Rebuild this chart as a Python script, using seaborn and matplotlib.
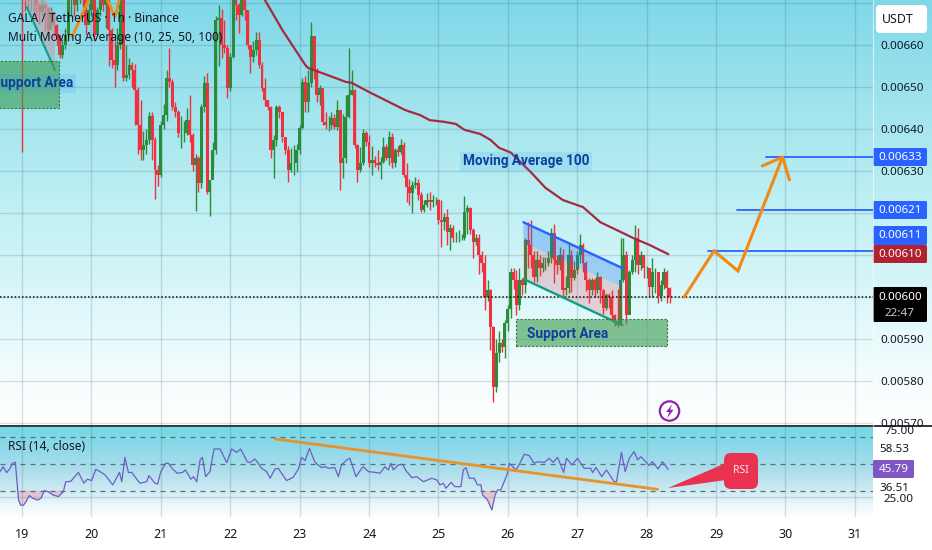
import numpy as np
import matplotlib
matplotlib.use("Agg")
import matplotlib.pyplot as plt
from matplotlib.patches import Rectangle, FancyBboxPatch, Polygon, Circle
import seaborn as sns

# ---------------- data: hourly candles, prices in 1e-5 USDT, hour 0 = day 19 00:00 ----------------
closes = [
 671.9,671.4,671.2,671.2,670.7,669.5,667.8,669.5,668.8,663.6,667.8,664.7,662.4,657.6,660,662.4,670.7,671.9,669.5,671.9,673.1,671.9,664.7,668.3,
 671.9,662.4,668.3,670.7,669.5,671.9,663.6,656.4,655.2,660,670.7,652.1,652.8,655.2,654,649.3,640.9,635,636.2,637.4,643,637.4,630.2,629,
 640.9,643.3,652.1,651.2,645.2,644,639,639,639,642.1,638.6,631.4,633.1,627.1,645.2,650.9,625,627.9,635,666,666.4,660,659.3,649.7,
 657.1,671.9,669.5,667.1,672.6,668.3,660,657.1,658.8,661.2,655.2,649.7,646.9,645.2,635,637.4,645.2,644,638.1,635,630.2,631.9,631.9,635,
 640.2,651.2,646.4,650.9,662.1,654,648.1,649.7,641.7,640.9,640.9,642.6,640.5,644.5,631.9,633.1,642.8,648.1,649.3,636.2,630.2,631.9,639,636.9,
 631.9,632.6,631.9,631.4,632.1,635.7,633.1,638.1,631.9,635,634.5,636.2,629,626.2,624.7,626.7,627.1,624.3,620.7,621.9,623.1,622.6,623.1,623.1,
 618.3,617.8,619,615.5,616.4,614,614,614,614,620.2,621.2,616,613.1,614,610,608.1,600,601.7,592.8,578.6,586.7,589,588.1,593.8,
 597.1,605.9,604,598.1,604,602.8,613.6,612.4,610,604.7,608.8,606.9,608.1,608.1,609.3,615.2,608.8,607.6,610,601.7,602.1,610,604.5,606.4,
 610,612.4,608.1,604,601.7,604,601.7,604.7,601.7,597.4,600.5,600,595.7,593.8,593.3,604,610,595.7,605.9,608.8,614,607.6,610,606.9,
 606.9,602.4,605.9,605.9,600.2,602.8,605.9,602.1,600]
highs = [
 676,673,673,673,672.5,671,670,671.5,670,669,669,667,665,662,661.5,664,672,673,671,673,674,673,671,670,
 674,671,669,672,671,673,671,664,661,664,672,671,660,657,656,655.5,650,647,639.5,640,644,644,638,631.5,
 642,646,654,659.2,652,646.5,644.5,643,642,645,648,639,634,633.5,646,652.5,653.3,627.9,637,667,669.5,668.5,666,660,
 658,674,672,670,673,673,668,660,661,663,663,656,652.1,647,645.5,638.5,645.7,645.7,644,638,636,635.4,636.2,636.5,
 641,652.1,652.6,654,665.5,662,654.5,650.5,647.4,644,643,644,643.5,647,643,643.5,648,659.3,654,649.5,636.5,635.7,640,639.5,
 638.6,636,633.5,635,633.3,638,636.5,639.5,639,635.5,636,637.5,637,632,628,627.5,628.5,628,625,623,624.8,625,624.3,623.8,
 623.3,623,620,621,617.5,617.2,615.5,616,615,624,622,621.5,616.5,615,615,611,610,604,602,593,590,592,590,594.5,
 598,607,607,606.5,606.9,604.5,614,617.8,618.3,611,611,610,609.5,609.5,611,616.5,617.5,610,612,611.5,605,613,611.3,608.5,
 611,615,612.8,608.5,604.5,604.5,604.5,606,605,602,601,601,601.7,596,602,614,614,611,606.5,610,617.1,616.4,611,610,
 607.5,607,609.3,607,606,604,607,606.5,602.5]
lows = [
 634.5,668,669,668,667,666,665,667,663,661.5,664,662,660,657,657,659,661,667,667,668,670,669,662.5,665,
 667,661,666,667,668,664,655,654.5,650,654,659,651.5,651.5,652,650,641,634,632.5,632.6,634,636.5,632.5,623.3,626.5,
 628.5,640,642,650,644.5,642.8,638,635.5,637,638.5,637,630,620.5,625,626,644,624.5,619.3,631,634,655,657,658,647.4,
 649,657,666,662.8,667,666,659,653.3,656,657.6,654.5,649,645.5,644.5,633,628.3,636,642.6,637,634,627.4,629.7,629,629.7,
 634,640,644,644,650,652,646.4,645.7,640.9,640,639.5,640,640,639.8,625.5,628.3,632,642.6,648,635.5,627.4,629.7,631.5,636,
 631,629,631,630.2,628,632,632.5,631.5,630.7,631,633.5,634,628.5,622.6,622,620,626,623,620.2,620.2,621.5,620.7,621.5,622,
 617.5,612,616,612.4,611.2,613,613,613,613.5,613.5,615,615,609.3,612.5,605.5,606,597,599,587.4,575,577.4,584.5,587,585.5,
 592,595,602,595.7,597,600.5,601,607,607,603.5,603.5,605,606,606.5,607.5,608,603.3,605.5,606.5,600,600.5,601,601.2,604,
 605.5,608,606,601.5,598.5,600.5,600,601,598.5,596,597,597.5,594.5,593,592.9,593.5,603.6,593.5,596,605.5,606,605.5,606.5,604.5,
 604.5,600,600,601,598.6,599,602,598.5,598.5]
first_open = 674.0

ma_hours = [84,90,98,99,101,106.6,112,114,120,129,132.5,137.7,141,146,150,153,158.5,162,165,169,176,181,187,194,200,207,211.5,217,223.5]
ma_values = [670.7,663.6,655.2,654.5,654,652.6,651.2,651,648.8,645.7,644.5,643.3,642.1,641.7,641.2,639.8,638.8,637.4,635.5,634.4,629.7,626,623.1,621.4,617.8,615.5,614,612.4,610.2]

rsi_hours = [-7.6,-6.5,-5.3,-4.1,-3.3,-2.3,-1.8,-1.2,-0.5,0.5,1.4,2.5,3.7,5.4,6.6,7.7,9.1,10.8,12.6,14.3,15.1,16.9,19.5,21.4,22.6,
 24.1,25.5,27,28.7,31.4,33.7,34.5,35.6,36.8,37.9,40.8,43.1,43.9,46,46.9,48,49.7,50.6,52.1,53.7,55.6,56.5,58.4,59.3,60.4,61.6,62.4,63.5,65,66.4,68.5,70.8,
 72.5,74.2,75.6,77.9,78.8,80.6,82.9,84.6,85.8,87.5,88.6,91.5,93.8,95.6,96.7,97.9,99.4,101.3,103.6,104.8,105.9,108.2,109.4,110.5,112.3,113.4,115.5,117.5,118,119.8,
 122.1,123.8,125.5,126.7,127.5,128.4,130.1,131.6,133,133.6,134.8,136.5,138.8,141.7,143.4,144.6,145.7,146.6,148.4,149.7,151.8,152.6,153.5,
 154.7,156.4,157.5,158.7,159.3,161,162.5,163.6,164.5,165.6,167.9,168.5,170.8,171.9,173.7,175.4,177.1,178.3,180.6,182.3,183.7,185.2,187.3,188.3,190.2,192.1,194.4,
 196.7,197.3,198.5,200.5,202.1,204.8,205.6,207.3,208.6,210,211.7,212.9,214,215.7,216.9,218,220,221.5,223.5]
rsi_values = [44.1,47.8,43.4,46.6,50.3,51,38,23.1,19.4,19.2,21.9,26.4,24.4,23.1,24.4,30.1,29.1,26.8,25.6,29.3,36.5,37,43.6,35.5,38.5,
 37.5,45.9,44.1,41.7,34.3,43.6,36.7,54.7,43.4,43.6,35.5,36.7,41.2,35.5,35,44.1,50.3,50.3,46.1,42.9,43.6,45.4,38.5,40.4,36.7,52.8,54.7,40.4,44.1,60.9,60.9,50.8,
 60.9,58.4,60.9,51.5,50.8,53.5,46.6,44.1,39.2,46.1,46.6,37.5,40,46.1,54.7,52.3,61.4,51,47.1,47.8,46.6,47.1,40.4,49.1,52.8,54,40.4,46.6,47.8,44.1,
 43.6,42.9,47.8,45.4,50.3,45.4,49.1,49.6,44.1,42.9,39.7,40.4,36.7,39.2,38,34.3,35.5,31.8,36.2,33,33,45.4,47.1,
 39.2,39.2,34.3,34.3,26.8,23.1,15.7,26.8,30.6,30.6,42.9,50.3,45.4,49.1,57,56,50.3,51.5,51,54,51,54.7,43.6,54,49.1,54,46.6,
 46.6,43.4,47.3,40.4,45.4,36.7,36.7,58.4,44.1,54,58.9,52.8,55.2,51.5,48.6,51.5,46.1,51.5,45.7]

day_labels = ["19","20","21","22","23","24","25","26","27","28","29","30","31"]
price_ticks = [570,580,590,600,610,620,630,640,650,660,670]
covered_ticks = [600,610,620,670]
rsi_levels = [70,50,30]
targets = [611,620.8,633.3]
target_start_hours = [237.2,247.2,257.3]
path_hours = [229,239.3,247.6,263]
path_prices = [600,611,606.2,633.3]

# ---------------- style ----------------
sns.set_theme(style="white")
plt.rcParams["font.family"] = ["Noto Sans", "DejaVu Sans"]
FS = 8.4
W, H = 932, 550
INK = "#131722"
UP, DOWN = "#2a8c3a", "#f0303f"
ORANGE, BLUE, TEAL, MACOL = "#f08a14", "#2962ff", "#0e9f83", "#a52a3f"
NAVY = "#0d3f9c"

fig = plt.figure(figsize=(W / 100, H / 100), dpi=100, facecolor="white")

def frame(x0, y0, x1, y1):
    return [x0 / W, 1 - y1 / H, (x1 - x0) / W, (y1 - y0) / H]

# background gradient
ax_bg = fig.add_axes([0, 0, 1, 1], zorder=0)
ax_bg.axis("off")
stops = [(0, "#7ed8e8"), (100, "#9fe3ed"), (200, "#bdeff3"), (300, "#dcf7fa"), (380, "#f6fdfd"), (426, "#ffffff"),
         (427, "#72d8e6"), (450, "#92d9e9"), (470, "#addeec"), (490, "#cfeaf3"), (505, "#ecf7fa"), (517, "#ffffff"), (550, "#ffffff")]
rows = np.arange(H)
pos = [s[0] for s in stops]
rgb = np.array([matplotlib.colors.to_rgb(s[1]) for s in stops])
grad = np.stack([np.interp(rows, pos, rgb[:, i]) for i in range(3)], axis=1)[:, None, :]
ax_bg.imshow(grad, aspect="auto", extent=(0, 1, 0, 1))

PX_H = 2.8917
x_lim = (-22 / PX_H, 851 / PX_H)
hours = np.arange(len(closes))
c = np.array(closes) * 1e-5
h = np.array(highs) * 1e-5
l = np.array(lows) * 1e-5
o = np.r_[first_open * 1e-5, c[:-1]]
colors = [UP if cc >= oo else DOWN for oo, cc in zip(o, c)]
day_hours = [24 * i for i in range(len(day_labels))]
GRID = dict(color="#1f4a58", alpha=0.17, lw=1)

# ---------------- main pane ----------------
ax = fig.add_axes(frame(0, 0, 873, 426), zorder=1)
ax.patch.set_alpha(0)
ax.set_xlim(*x_lim)
ax.set_ylim(569.3e-5, 670.7e-5)
for s in ax.spines.values():
    s.set_visible(False)
ax.set_xticks(day_hours)
ax.set_xticklabels([])
ax.set_yticks([p * 1e-5 for p in price_ticks])
ax.set_yticklabels([f"{p * 1e-5:.5f}" if p not in covered_ticks else "" for p in price_ticks], fontsize=FS, color=INK)
ax.yaxis.tick_right()
ax.tick_params(axis="both", length=0)
ax.tick_params(axis="y", pad=5)
ax.grid(True, **GRID)
ax.set_axisbelow(True)

ax.vlines(hours, l, h, colors=colors, lw=1, zorder=2)
ax.bar(hours, np.abs(c - o), bottom=np.minimum(o, c), width=1.02, color=colors, linewidth=0, zorder=3)
sns.lineplot(x=ma_hours, y=np.array(ma_values) * 1e-5, ax=ax, color=MACOL, lw=1.6, zorder=4, legend=False)
ax.set_xlabel(""); ax.set_ylabel("")
ax.set_xlim(*x_lim); ax.set_ylim(569.3e-5, 670.7e-5)

ax.axhline(600e-5, color="#101010", lw=1.1, ls=(0, (1, 1.4)), zorder=5)

# earlier pattern at top-left
ax.add_patch(Polygon([(1.0, 671e-5), (1.7, 669e-5), (11.4, 654e-5), (11.4, 667e-5), (8, 671e-5)],
                     closed=True, fc="#b9a9b5", ec="none", alpha=0.65, zorder=4))
ax.plot([1.7, 11.4], [669e-5, 654e-5], color=TEAL, lw=1.5, zorder=5)
ax.plot([17.3, 23.5], [661.9e-5, 671.5e-5], color=ORANGE, lw=2, zorder=5)
ax.plot([29, 32.2, 33.9], [671.5e-5, 666.7e-5, 671.5e-5], color=ORANGE, lw=2, zorder=5)

# flag channel
ax.add_patch(Polygon([(173.4, 617.8e-5), (207.6, 606.9e-5), (207.6, 602.4e-5), (173.4, 612.9e-5)],
                     closed=True, fc=(0.13, 0.45, 0.95, 0.30), ec="none", zorder=3.5))
ax.add_patch(Polygon([(173.4, 612.9e-5), (207.6, 602.4e-5), (207.6, 593.3e-5), (173.4, 604.3e-5)],
                     closed=True, fc=(0.95, 0.21, 0.27, 0.20), ec="none", zorder=3.5))
ax.plot([173.4, 207.6], [617.8e-5, 606.9e-5], color=BLUE, lw=1.7, zorder=5)
ax.plot([173.4, 207.6], [604.3e-5, 593.3e-5], color=TEAL, lw=1.7, zorder=5)

# support areas
for x0, x1, y0, y1 in [(-8, 12.8, 645.1e-5, 656.2e-5), (170.8, 223.1, 588.3e-5, 594.8e-5)]:
    ax.add_patch(Rectangle((x0, y0), x1 - x0, y1 - y0, fc=(0.25, 0.62, 0.32, 0.62), ec="#2e7d3c", lw=0.8, ls=(0, (2, 1.5)), zorder=6))
bold = dict(fontweight="bold", color=NAVY, ha="center", va="center", zorder=7, fontsize=9.8,
            family=["Roboto", "DejaVu Sans"])
tb = dict(boxstyle="square,pad=0.18", fc=(0.13, 0.59, 0.95, 0.14), ec="none")
ax.text(3.8, 650.9e-5, "Support Area", bbox=tb, clip_on=True, **bold)
ax.text(188.8, 591.2e-5, "Support Area", **bold)
ax.text(174.3, 632.3e-5, "Moving Average 100", bbox=tb, **bold)

# target lines and projection
for t, s in zip(targets, target_start_hours):
    ax.plot([s, x_lim[1]], [t * 1e-5, t * 1e-5], color=BLUE, lw=1.3, zorder=5)
ax.plot(path_hours, np.array(path_prices) * 1e-5, color=ORANGE, lw=2.2, zorder=6, solid_joinstyle="miter")
ax.plot([256.0, 263, 265.4], [631.2e-5, 633.3e-5, 627.9e-5], color=ORANGE, lw=2.2, zorder=6)

# ---------------- RSI pane ----------------
axr = fig.add_axes(frame(0, 427, 873, 517), zorder=2)
axr.patch.set_alpha(0)
axr.set_xlim(*x_lim)
axr.set_ylim(10.5, 77.2)
for s in axr.spines.values():
    s.set_visible(False)
axr.set_xticks(day_hours)
axr.set_xticklabels(day_labels, fontsize=FS + 0.6, color=INK)
axr.set_yticks([])
axr.tick_params(axis="x", length=0, pad=8)
axr.grid(True, axis="x", **GRID)
axr.set_axisbelow(True)
for lv in rsi_levels:
    axr.axhline(lv, color="#56707c", lw=0.9, ls=(0, (4, 4)), zorder=1)
axr.axhline(25, zorder=1, **GRID)
rh, rv = np.array(rsi_hours), np.array(rsi_values)
axr.fill_between(rh, rv, 30, where=rv < 30, interpolate=True, color="#f23645", alpha=0.2, lw=0)
sns.lineplot(x=rh, y=rv, ax=axr, color="#6f5cc4", lw=0.9, sort=False, estimator=None, legend=False, zorder=3)
axr.set_xlabel(""); axr.set_ylabel("")
axr.set_xlim(*x_lim); axr.set_ylim(10.5, 77.2)
axr.plot([87.5, 219.8], [68.3, 31], color="#e8932a", lw=2, zorder=4, solid_capstyle="round")

# ---------------- overlay: labels, panel furniture ----------------
ov = fig.add_axes([0, 0, 1, 1], zorder=5)
ov.set_xlim(0, W); ov.set_ylim(H, 0); ov.axis("off")
ov.patch.set_alpha(0)
ov.add_patch(Rectangle((873, 427), 59, 90, fc="white", ec="none"))
ov.plot([0, W], [426.3, 426.3], color="#141414", lw=1.2)
ov.plot([873, 873], [0, 426], color="white", lw=0.8, alpha=0.6)

def pill(x0, y0, x1, y1, fc, rad=1.5):
    ov.add_patch(FancyBboxPatch((x0 + rad, y0 + rad), x1 - x0 - 2 * rad, y1 - y0 - 2 * rad,
                                boxstyle=f"round,pad={rad},rounding_size={rad}", fc=fc, ec="none"))

def lab(x, y, s, col=INK, size=FS, **kw):
    ov.text(x, y, s, color=col, fontsize=size, ha=kw.pop("ha", "center"), va="center", **kw)

pill(876, 5, 927, 33, "white", 4)
lab(898, 19.5, "USDT", size=FS + 0.5)
for y0, y1, fc, txt in [(148, 166, BLUE, "0.00633"), (201, 219, BLUE, "0.00621"), (226, 245, BLUE, "0.00611"), (245, 263, "#b2212f", "0.00610")]:
    pill(873, y0, 927, y1, fc)
    lab(900.5, (y0 + y1) / 2 + 0.3, txt, "white")
pill(873, 287, 927, 322, "black")
lab(900.5, 297, "0.00600", "white")
lab(899, 313.5, "22:47", "#c8c8c8")

lab(899, 431, "75.00")
lab(899, 499, "25.00")
pill(873, 441, 914, 459, "white")
lab(894, 450, "58.53")
pill(873, 460, 914, 478, "#7e57c2")
lab(894, 469.5, "45.79", "white")
pill(873, 479, 914, 497, "white")
lab(894, 488.5, "36.51")

lab(8, 19, "GALA / TetherUS · 1h · Binance", size=8.6, ha="left", fontweight="bold")
lab(8, 38, "Multi Moving Average (10, 25, 50, 100)", size=8.6, ha="left")
lab(8, 446, "RSI (14, close)", size=8.6, ha="left")

# RSI callout
ov.add_patch(Polygon([(668, 488), (726, 463), (726, 480)], closed=True, fc="#e8324f", ec="none"))
pill(724, 453, 758, 489, "#e8324f", 7)
lab(741, 470.5, "RSI", "#ffe9ec", size=7.5, fontweight="bold")

# lightning badge
ov.add_patch(Circle((669.5, 411), 9.7, fc=(1, 1, 1, 0.5), ec="#8e24aa", lw=1.6))
ov.add_patch(Polygon([(672.5, 404), (666, 412), (669.3, 412), (667, 418.5), (673.5, 409.7), (670, 409.7)],
                     closed=True, fc="#8e24aa", ec="none"))

fig.savefig("out.png", dpi=100)
